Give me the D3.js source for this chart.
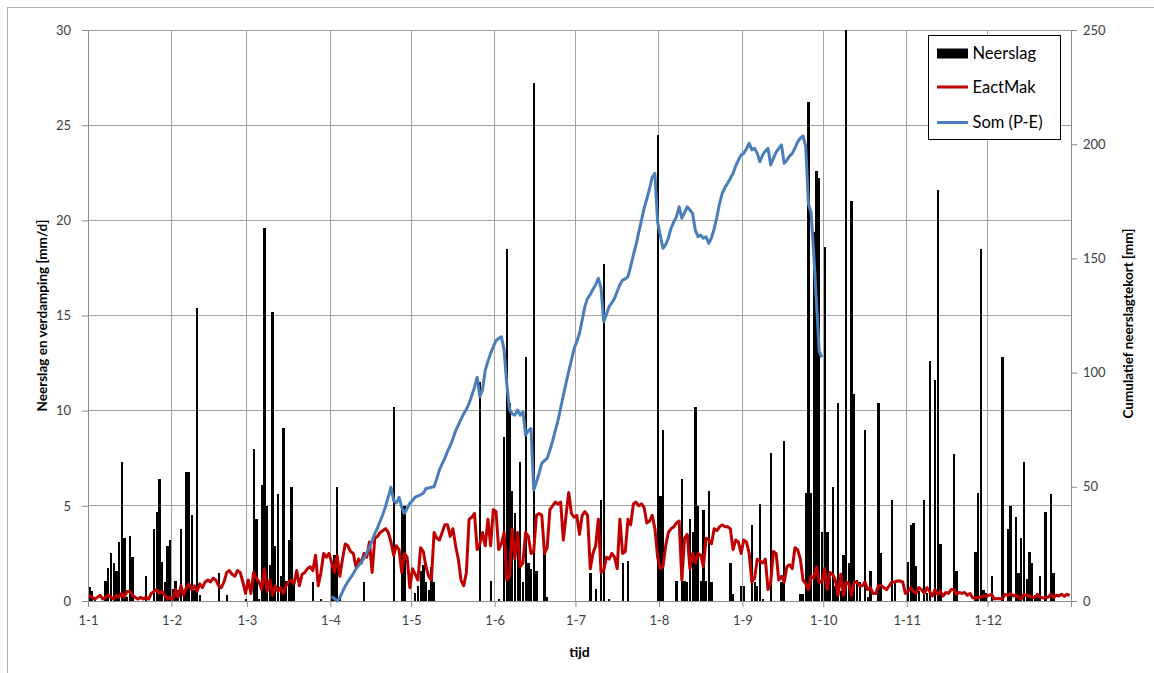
<!DOCTYPE html>
<html>
<head>
<meta charset="utf-8">
<script src="https://cdn.jsdelivr.net/npm/d3@7"></script>
<style>
  body { margin: 0; background: #fff; }
  svg text { font-family: Lato, "Liberation Sans", sans-serif; }
</style>
</head>
<body>
<div id="chart"></div>
<script>
// daily values, day 0 = 1 January (365 days)
const neerslag = [
  0.75,0.5,0.1,0,0,0,1.05,1.75,2.5,2.0,1.6,3.1,7.3,3.3,0.2,3.4,2.3,0,0,0,0,1.3,0,0,3.8,4.7,6.4,2.05,1.0,2.9,3.2,
  0.65,1.05,0.6,3.8,0.5,6.8,6.8,4.5,0.6,15.4,0.3,0,0,0,0,0,0,1.45,0,0,0.3,0,0,0,0,0,0,0.1,
  0,0,8.0,4.3,0.1,6.1,19.6,5.0,1.9,15.2,2.9,5.6,1.3,9.1,1.05,3.2,6.0,1.05,0,0,0,0,0,0,1.0,0,0,0.1,0,0,0,
  2.0,2.4,6.0,0.3,0,0,0,0,0,0,0,0,1.0,0,0,0,0,0,0,0,0,0,0,10.2,0,0,5.0,5.0,0,0,
  0,0.4,0.8,1.6,1.9,1.0,0.6,1.8,1.0,0,0,0,0,0,0,0,0,0,0,0,0,0,0,0,0,11.5,0,0,0,1.05,0,
  0,0.1,0,8.6,18.5,10.4,5.8,4.6,3.6,7.3,1.0,12.8,2.0,1.7,27.2,1.6,0,0,2.5,0.2,0,0,0,0,0,0,0,0,0,0,
  0,0,0,0,0,1.45,0,0.65,0,5.3,17.7,0,0.1,0,0,0,0,2.0,0,2.1,0,0,0,0,0,0,0,0,0,0,24.5,
  5.5,9.0,0,0,0,0,1.05,0,6.4,1.05,1.0,4.3,3.6,10.2,5.0,1.05,4.8,1.05,5.8,1.0,0,0,0,0,0,0,2.0,0.35,0,0,0.8,
  0.8,0,0,4.0,1.0,0.8,5.1,0.1,0,0,7.8,0,0,0,1.0,8.4,0,0,0,0,0,0.35,0.35,5.7,26.2,5.7,19.4,22.6,22.2,3.6,
  18.6,3.6,1.2,6.0,0.8,10.4,0.5,2.4,30,2.0,21.0,10.9,1.1,1.0,0,9.0,0.2,1.6,0,0,10.4,2.5,0,0,0,5.3,1.0,0,0,0,0,
  2.05,4.0,4.1,1.85,0.5,0,5.3,0.4,12.6,0,11.6,21.6,3.0,0,0,0,0,7.7,1.6,0,0,0,0,0,0,2.6,5.7,18.5,0.6,0.4,
  0,1.3,0,0,0,12.8,0,3.8,5.0,0,4.4,1.45,3.3,7.3,1.15,2.6,2.0,0.3,0.3,1.3,0,4.7,0,5.6,1.45,0,0,0,0,0,0
];

const eactMak = [
  0.3,0.2,0.1,0.2,0.3,0.1,0.2,0.3,0.2,0.1,0.3,0.2,0.4,0.2,0.5,0.5,0.3,0.2,0.1,0.2,0.1,0.2,0.1,0.4,0.5,0.6,0.4,0.5,0.3,0.1,0.2,
  0.1,0.6,0.2,0.8,0.3,0.7,0.9,0.6,0.8,0.5,0.9,0.7,1.0,1.1,1.0,1.2,1.1,0.8,0.7,1.0,1.5,1.6,1.4,1.3,1.6,1.5,1.0,0.4,
  1.1,0.4,1.5,1.2,1.0,0.6,1.7,0.5,1.1,0.3,0.8,0.5,0.7,0.4,0.8,1.0,1.1,0.9,1.6,0.8,1.4,1.5,1.7,1.8,1.6,2.4,0.8,1.5,2.5,2.3,2.5,
  2.0,1.5,2.4,1.3,2.2,3.0,2.9,2.6,2.5,1.8,2.2,2.0,2.5,2.3,3.1,1.5,3.3,3.4,3.6,3.7,3.8,3.6,3.1,2.4,2.9,2.7,1.5,2.5,2.3,0.7,
  1.7,1.4,1.1,2.8,2.6,1.8,1.3,1.1,3.6,3.3,3.2,3.6,4.0,4.0,3.4,3.8,2.9,2.2,1.1,0.8,1.5,4.3,4.4,4.6,2.7,3.0,3.6,2.9,4.3,2.9,4.8,
  4.7,2.7,3.0,3.6,1.1,1.3,3.8,2.2,3.6,1.8,2.0,3.6,3.4,2.5,2.6,4.5,4.6,4.5,2.5,2.8,4.8,5.0,5.2,5.1,5.2,3.2,4.5,5.7,4.6,4.4,
  4.5,3.5,4.5,4.7,4.5,1.7,2.5,2.9,4.3,1.5,1.6,2.3,2.2,2.5,2.3,1.7,4.3,2.5,2.6,4.3,4.0,5.1,5.2,5.0,5.1,4.9,4.1,4.2,4.5,3.8,2.3,
  1.7,1.8,2.9,3.6,3.8,3.9,4.1,4.2,1.1,3.3,3.5,1.7,2.5,2.0,2.5,2.4,1.8,3.3,3.2,3.0,3.8,3.7,3.9,4.0,3.9,3.9,3.8,2.7,3.2,3.1,2.5,
  3.2,3.1,2.5,1.0,1.2,2.2,2.1,2.0,2.2,0.6,1.0,2.6,2.5,1.1,1.3,1.0,1.8,1.9,1.7,2.8,2.7,2.2,1.1,0.9,0.6,1.3,1.2,1.8,1.0,1.0,
  1.7,0.6,1.5,1.4,1.1,0.3,1.4,0.3,1.0,0.9,0.3,1.0,1.0,0.8,0.8,1.0,0.6,0.7,0.4,0.4,0.8,0.8,0.7,0.6,0.8,1.0,1.0,1.05,1.05,1.0,0.4,
  0.5,0.7,0.5,0.4,0.7,0.6,0.4,0.7,0.5,0.26,0.6,0.35,0.5,0.26,0.45,0.4,0.6,0.6,0.35,0.45,0.4,0.45,0.3,0.4,0.17,0.15,0.2,0.17,0.3,0.25,
  0.3,0.35,0.1,0.12,0.13,0.1,0.35,0.3,0.4,0.26,0.3,0.2,0.1,0.35,0.26,0.3,0.2,0.17,0.35,0.2,0.17,0.15,0.2,0.35,0.2,0.3,0.26,0.35,0.25,0.35,0.3
];

// cumulative deficit, 1 April (day 90) to 30 September (day 272)
const somStart = 90;
const somPE = [
  2.0,1.0,0.0,1.5,4.0,6.5,8.5,10.2,12.0,14.0,
  15.5,17.0,18.8,21.0,23.5,26.5,29.5,32.0,35.0,38.0,
  41.5,45.5,49.8,44.0,43.0,45.4,41.0,38.4,40.5,42.8,
  44.0,45.5,46.0,46.5,47.2,49.3,49.5,49.8,50.0,53.5,
  57.4,60.0,62.5,65.5,68.0,71.0,74.5,77.0,79.5,82.0,
  84.0,86.5,90.0,93.5,98.0,89.5,92.5,101.0,105.0,108.5,
  111.3,114.0,115.0,115.7,110.0,95.0,84.0,82.0,81.4,83.6,
  81.4,82.9,72.7,74.6,75.5,48.6,52.0,56.0,60.4,61.5,
  62.5,66.0,70.0,74.5,79.0,84.5,90.0,95.5,100.5,105.5,
  110.5,113.5,117.2,123.0,129.0,132.5,134.2,136.5,138.5,141.3,
  137.0,122.3,125.5,128.9,130.5,132.5,135.5,138.5,140.5,141.0,
  142.0,146.5,151.5,156.0,161.5,166.5,172.0,176.0,180.5,185.5,
  187.2,166.0,160.0,154.4,156.0,159.0,163.2,166.0,168.3,172.6,
  167.6,170.0,172.6,171.2,169.7,162.4,159.5,160.2,158.8,159.5,
  156.6,159.0,163.0,168.0,174.0,178.5,181.0,182.9,185.0,187.2,
  190.5,193.0,195.3,196.0,198.0,200.4,197.5,198.2,196.0,192.3,
  195.3,197.0,198.2,190.9,193.8,196.5,198.2,199.7,191.6,193.0,
  194.8,196.0,198.2,201.0,202.6,203.6,198.9,174.0,170.0,151.5,
  130.5,109.3,106.7
];

const leftTicks = [0, 5, 10, 15, 20, 25, 30];
const rightTicks = [0, 50, 100, 150, 200, 250];
const seriesNames = ["Neerslag", "EactMak", "Som (P-E)"];

function drawChart() {
    const W = 1154, H = 673;
    const plot = { left: 88, right: 1071, top: 30, bottom: 601 };
    const gridColor = "#a3a3a3";

    const svg = d3.select("#chart")
        .append("svg")
        .attr("width", W)
        .attr("height", H);

    // outer chart-area border
    svg.append("rect")
        .attr("x", 7.5).attr("y", 7.5)
        .attr("width", W).attr("height", H)
        .attr("fill", "none")
        .attr("stroke", "#b0b0b0");

    const day = i => new Date(Date.UTC(2019, 0, 1 + i));
    const noon = i => new Date(Date.UTC(2019, 0, 1 + i, 12));

    const x = d3.scaleUtc()
        .domain([day(0), day(365)])
        .range([plot.left, plot.right]);

    const yL = d3.scaleLinear().domain([0, 30]).range([plot.bottom, plot.top]);
    const yR = d3.scaleLinear().domain([0, 250]).range([plot.bottom, plot.top]);

    const months = d3.utcMonth.range(day(0), day(366));

    // gridlines
    const grid = svg.append("g")
        .attr("stroke", gridColor)
        .attr("shape-rendering", "crispEdges");
    grid.selectAll("line.h")
        .data(leftTicks.slice(1))
        .join("line")
        .attr("x1", plot.left).attr("x2", plot.right)
        .attr("y1", d => yL(d)).attr("y2", d => yL(d));
    grid.selectAll("line.v")
        .data(months)
        .join("line")
        .attr("x1", d => x(d)).attr("x2", d => x(d))
        .attr("y1", plot.top).attr("y2", plot.bottom);

    // precipitation bars
    svg.append("g")
        .attr("shape-rendering", "crispEdges")
        .selectAll("rect")
        .data(neerslag)
        .join("rect")
        .attr("x", (d, i) => x(day(i)) + 0.3)
        .attr("width", (d, i) => x(day(i + 1)) - x(day(i)) - 0.4)
        .attr("y", d => yL(d))
        .attr("height", d => yL(0) - yL(d))
        .attr("fill", "#000");

    // axes
    const styleAxis = g => {
        g.selectAll(".domain").attr("stroke", "#8c8c8c");
        g.selectAll(".tick line").attr("stroke", "#8c8c8c");
        g.selectAll("text")
            .attr("fill", "#404040")
            .style("font-size", "13px");
    };

    svg.append("g")
        .attr("transform", `translate(${plot.left},0)`)
        .call(d3.axisLeft(yL).tickValues(leftTicks).tickSize(6).tickSizeOuter(0).tickPadding(11))
        .call(styleAxis);

    svg.append("g")
        .attr("transform", `translate(${plot.right},0)`)
        .call(d3.axisRight(yR).tickValues(rightTicks).tickSize(6).tickSizeOuter(0).tickPadding(6))
        .call(styleAxis);

    svg.append("g")
        .attr("transform", `translate(0,${plot.bottom})`)
        .call(d3.axisBottom(x)
            .tickValues(months)
            .tickSize(6)
            .tickSizeOuter(0)
            .tickPadding(9)
            .tickFormat(d => d.getUTCFullYear() > 2019 ? "" : `1-${d.getUTCMonth() + 1}`))
        .call(styleAxis);

    // lines
    svg.append("path")
        .datum(eactMak)
        .attr("fill", "none")
        .attr("stroke", "#c00000")
        .attr("stroke-width", 3)
        .attr("stroke-linejoin", "round")
        .attr("d", d3.line().x((d, i) => x(noon(i))).y(d => yL(d)));

    svg.append("path")
        .datum(somPE)
        .attr("fill", "none")
        .attr("stroke", "#4a7ebb")
        .attr("stroke-width", 3)
        .attr("stroke-linejoin", "round")
        .attr("d", d3.line().x((d, i) => x(noon(somStart + i))).y(d => yR(d)));

    // axis titles
    svg.append("text")
        .attr("transform", `translate(47,${(plot.top + plot.bottom) / 2}) rotate(-90)`)
        .attr("text-anchor", "middle")
        .style("font-size", "13.5px")
        .style("font-weight", "bold")
        .text("Neerslag en verdamping [mm/d]");

    svg.append("text")
        .attr("transform", `translate(1133,${(plot.top + plot.bottom) / 2 + 8}) rotate(-90)`)
        .attr("text-anchor", "middle")
        .style("font-size", "13.5px")
        .style("font-weight", "bold")
        .text("Cumulatief neerslagtekort [mm]");

    svg.append("text")
        .attr("x", (plot.left + plot.right) / 2)
        .attr("y", 657)
        .attr("text-anchor", "middle")
        .style("font-size", "14px")
        .style("font-weight", "bold")
        .text("tijd");

    // legend
    const legend = svg.append("g").attr("transform", "translate(928.5,35.5)");
    legend.append("rect")
        .attr("width", 132).attr("height", 104)
        .attr("fill", "#fff")
        .attr("stroke", "#000");

    const colors = ["#000", "#c00000", "#4a7ebb"];
    const rowY = [18, 51.5, 87];
    const item = legend.selectAll("g.item")
        .data(seriesNames)
        .join("g")
        .attr("transform", (d, i) => `translate(0,${rowY[i]})`);

    item.filter((d, i) => i === 0).append("rect")
        .attr("x", 8.5).attr("y", -5).attr("width", 31).attr("height", 10)
        .attr("fill", "#000");
    item.filter((d, i) => i > 0).append("line")
        .attr("x1", 8.5).attr("x2", 39.5)
        .attr("stroke", (d, i) => colors[i + 1])
        .attr("stroke-width", 3);
    item.append("text")
        .attr("x", 44)
        .attr("y", 5.5)
        .style("font-size", "16.5px")
        .attr("fill", "#000")
        .text(d => d);
}

drawChart();
</script>
</body>
</html>
